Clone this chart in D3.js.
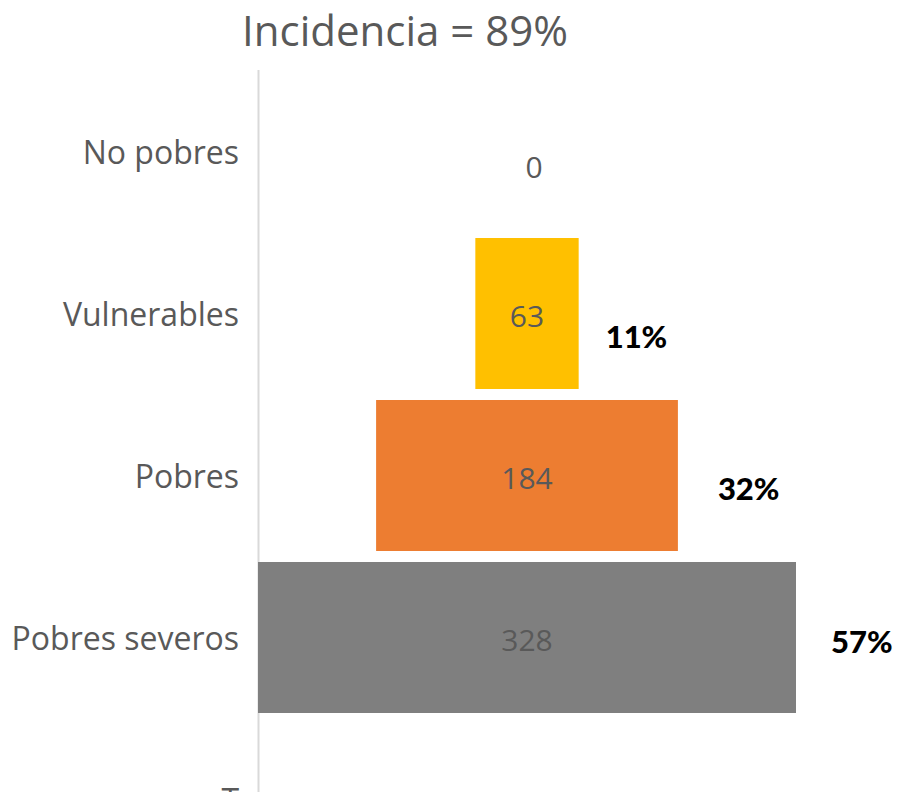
<!DOCTYPE html>
<html><head><meta charset="utf-8">
<script src="https://cdn.jsdelivr.net/npm/d3@7"></script>
<style>html,body{margin:0;padding:0;background:#fff;}svg{display:block;}</style>
</head><body>
<script>
const categories = ["No pobres", "Vulnerables", "Pobres", "Pobres severos", "T"];
const values = [0, 63, 184, 328, null];
const shares = ["", "11%", "32%", "57%", ""];
const colors = ["#FFC000", "#FFC000", "#ED7D31", "#7F7F7F", "#7F7F7F"];
const title = "Incidencia = 89%";

const W = 897, H = 792;
const svg = d3.select("body").append("svg").attr("width", W).attr("height", H);

const maxV = d3.max(values);
const x = d3.scaleLinear().domain([-maxV / 2, maxV / 2]).range([258, 796]);
const y = d3.scaleBand().domain(categories).range([70.5, 880.5]).paddingInner(0.068).paddingOuter(0.034);

svg.append("text").attr("x", 405).attr("y", 46).attr("text-anchor", "middle")
  .attr("font-family", "Open Sans").attr("font-size", 42).attr("fill", "#595959").text(title);

// axis line
svg.append("line").attr("x1", 258.5).attr("x2", 258.5).attr("y1", 70).attr("y2", H)
  .attr("stroke", "#d9d9d9").attr("stroke-width", 2);

const yAxis = d3.axisLeft(y).tickSize(0).tickPadding(19);
const ga = svg.append("g").attr("transform", "translate(258,2)").call(yAxis);
ga.select(".domain").remove();
ga.selectAll("text").attr("font-family", "Open Sans").attr("font-size", 32).attr("fill", "#595959");

const data = categories.map((c, i) => ({ c, v: values[i], s: shares[i], col: colors[i] }));
const bars = data.filter(d => d.v != null);

svg.selectAll("rect.bar").data(bars.filter(d => d.v > 0)).join("rect").attr("class", "bar")
  .attr("x", d => x(-d.v / 2)).attr("width", d => x(d.v / 2) - x(-d.v / 2))
  .attr("y", d => y(d.c)).attr("height", y.bandwidth()).attr("fill", d => d.col);

svg.selectAll("text.val").data(bars).join("text").attr("class", "val")
  .attr("x", d => d.v === 0 ? x(0) + 7 : x(0))
  .attr("y", d => y(d.c) + y.bandwidth() / 2 + (d.v === 0 ? 15 : 2))
  .attr("text-anchor", "middle").attr("dominant-baseline", "central")
  .attr("font-family", "Open Sans").attr("font-size", 30).attr("fill", "#595959").text(d => d.v);

const nudge = { "Vulnerables": [27, 27], "Pobres": [40, 17], "Pobres severos": [35, 8] };
svg.selectAll("text.pct").data(bars.filter(d => d.s)).join("text").attr("class", "pct")
  .attr("x", d => x(d.v / 2) + nudge[d.c][0])
  .attr("y", d => y(d.c) + y.bandwidth() / 2 + nudge[d.c][1])
  .attr("dominant-baseline", "middle")
  .attr("font-family", "Lato").attr("font-weight", 900).attr("font-size", 31).attr("fill", "#000").text(d => d.s);
</script>
</body></html>
